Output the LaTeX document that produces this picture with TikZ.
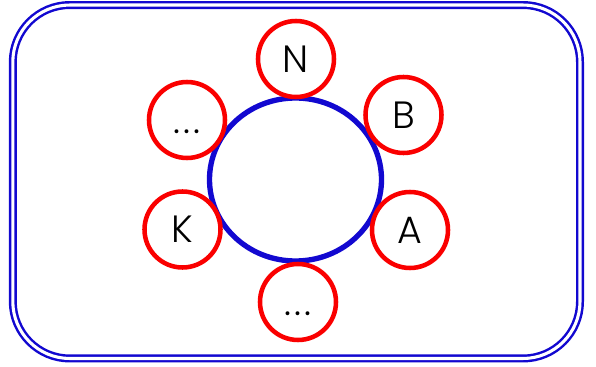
\documentclass[tikz,border=0pt]{standalone}
\usepackage{fontspec}
\newfontfamily\lblfont{Poppins}[UprightFont=* Light]
\usetikzlibrary{shapes.geometric}
\definecolor{ringblue}{RGB}{18,8,208}
\definecolor{ballred}{RGB}{250,0,0}
\newcommand{\gapdots}{.\kern2.4pt.\kern2.4pt.}
\tikzset{
  frame/.style={draw=ringblue, double=white, double distance=2.3pt, line width=1.85pt,
    rounded corners=42.75pt, minimum width=425.4pt, minimum height=265.1pt, inner sep=0pt},
  ring/.style={ellipse, draw=ringblue, line width=4pt, minimum width=129pt, minimum height=122.25pt, inner sep=0pt},
  ball/.style={circle, draw=ballred, fill=white, line width=3.4pt, minimum size=57pt, inner sep=0pt,
    font=\lblfont\fontsize{28.5pt}{30pt}\selectfont, text height=20pt, text depth=0pt}
}
\begin{document}
\begin{tikzpicture}[x=0.75pt,y=-0.75pt]
\useasboundingbox (0,0) rectangle (596,367);
\node[frame] (box) at (296.4,181.75) {};
\node[ring] (hub) at (295.5,179.5) {};
\node[ball] (n) at (296,59) {N};
\node[ball] (b) at (403.5,115) {B};
\node[ball] (a) at (410,230) {A};
\node[ball] (d2) at (298,302) {\gapdots};
\node[ball] (k) at (182.5,229.5) {K};
\node[ball] (d1) at (187,120) {\gapdots};
\end{tikzpicture}
\end{document}
